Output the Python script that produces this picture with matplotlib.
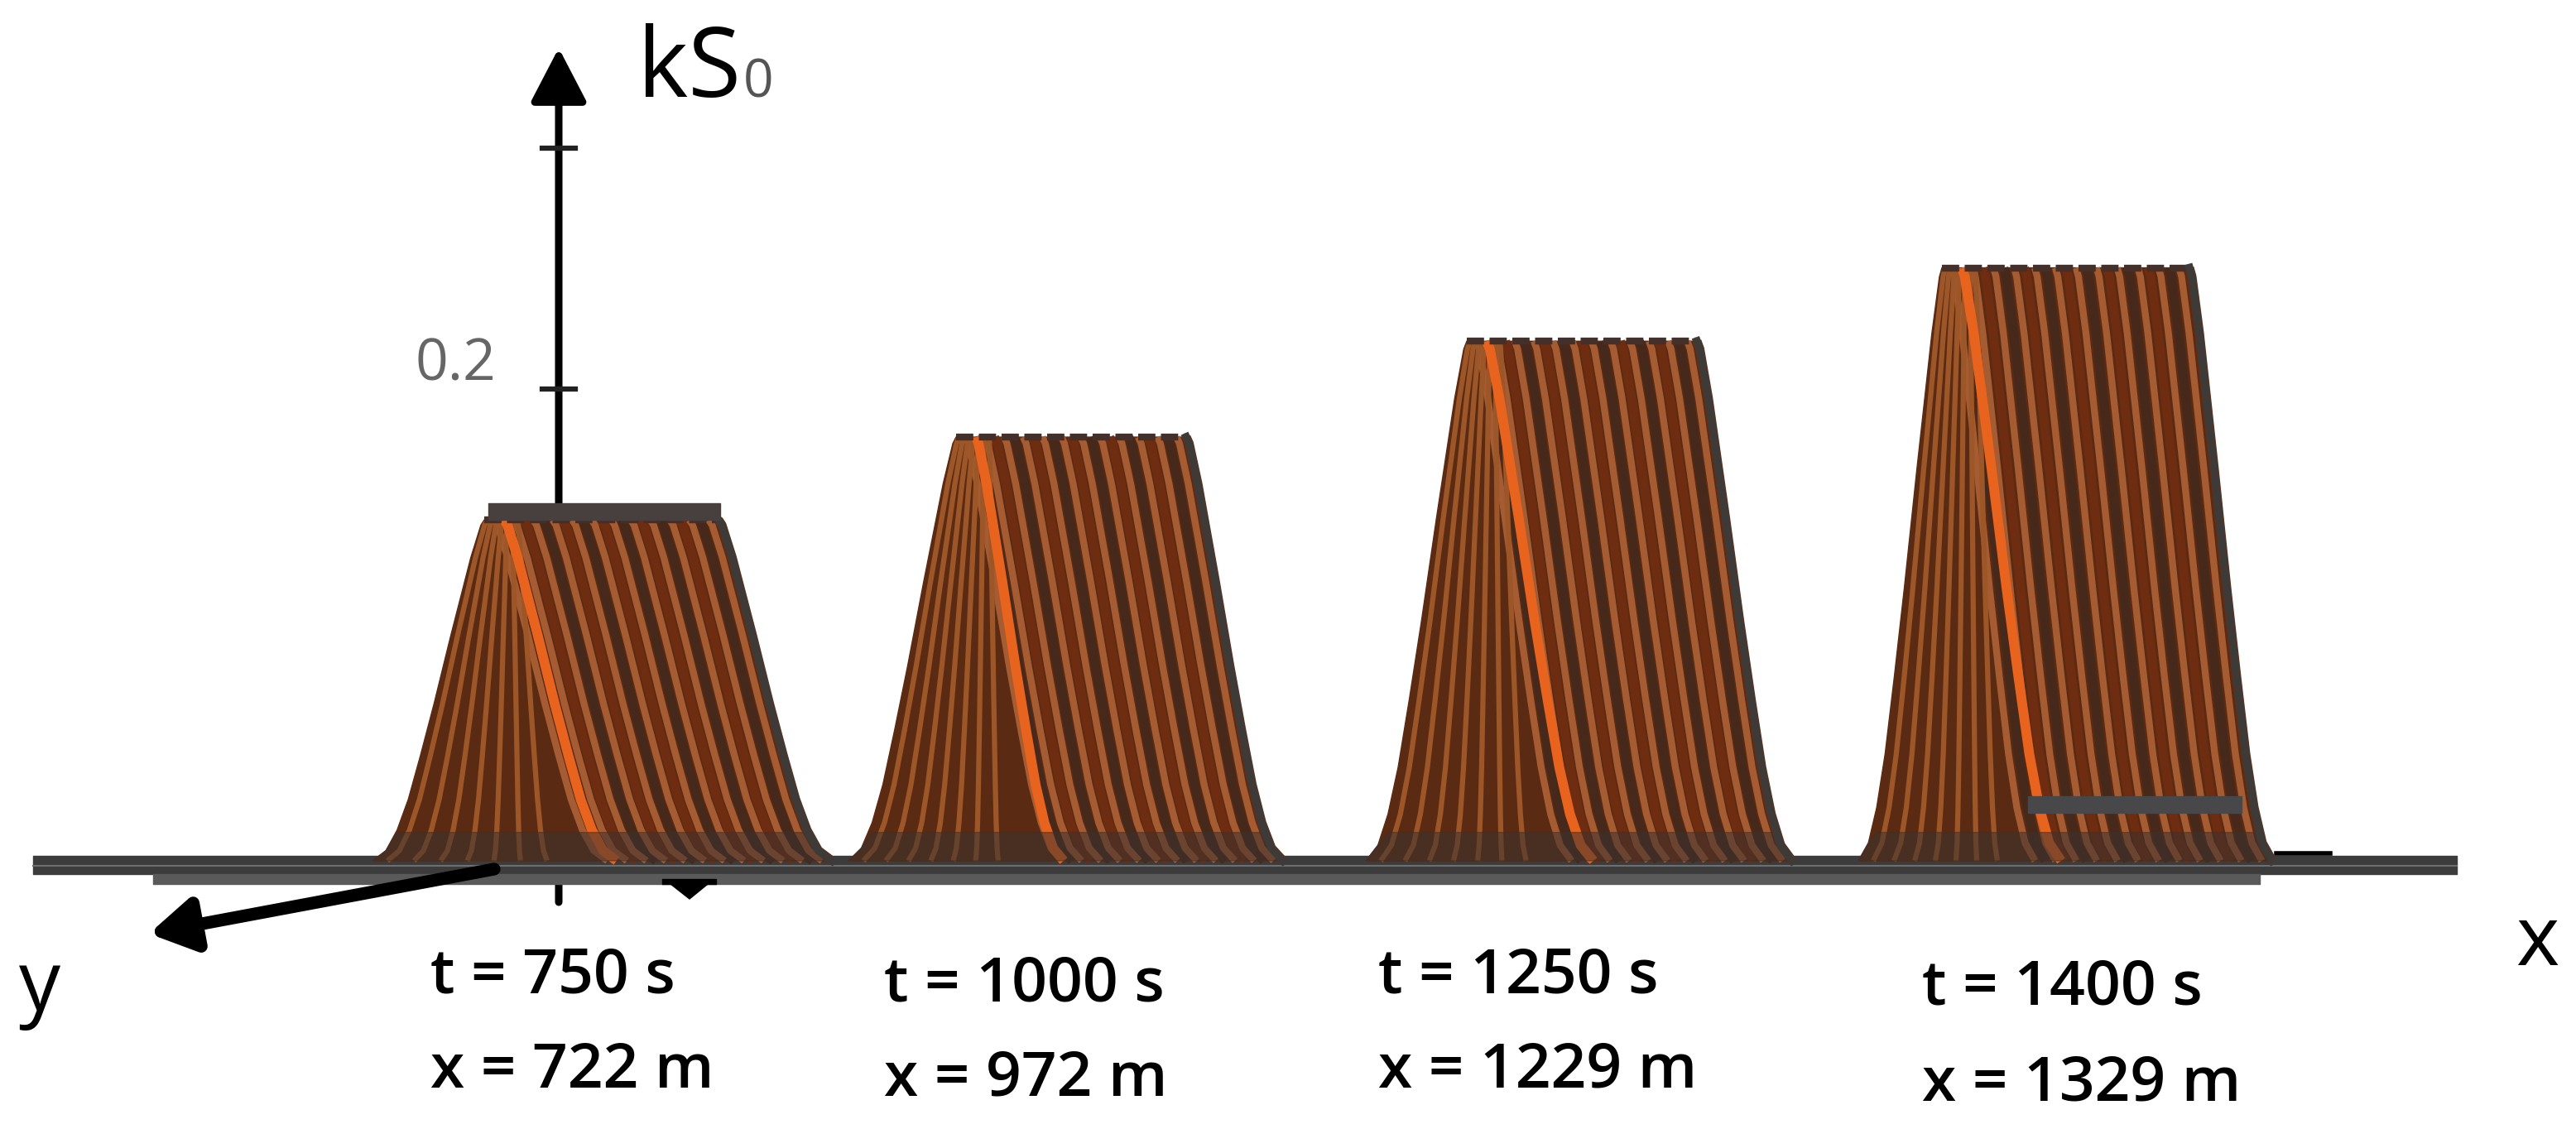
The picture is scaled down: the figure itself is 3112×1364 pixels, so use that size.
import numpy as np
import matplotlib.pyplot as plt
from matplotlib.transforms import Affine2D

# pulses, left to right (x is position on the picture, height is kS0)
times = [750, 1000, 1250, 1400]
dists = [722, 972, 1229, 1329]
peak_height = [0.144, 0.179, 0.2195, 0.2505]
top_left = [585, 1155, 1772, 2346]
top_right = [868, 1433, 2050, 2645]
foot_left = [450, 1025, 1650, 2245]
foot_right = [1005, 1550, 2165, 2745]
front_foot = [745, 1285, 1925, 2490]

# shape of one flank of the pulse
flank_run = [0, 0.03, 0.12, 0.30, 0.45, 0.57, 0.68, 0.78, 0.88, 1.0]
flank_rise = [1, 0.985, 0.89, 0.66, 0.46, 0.31, 0.18, 0.09, 0.03, 0]

run = np.array(flank_run)
rise = np.array(flank_rise)

fig = plt.figure(figsize=(31.12, 13.64), dpi=100)
ax = fig.add_axes([0, 0, 1, 1])
ax.set_xlim(0, 3112)
ax.set_ylim((1040 - 1364) / 2860, 1040 / 2860)
ax.axis('off')

# picture pixels, for everything that is not a pulse
px = Affine2D().scale(1, -1).translate(0, 1364)
plt.rcParams['font.family'] = ['Open Sans', 'DejaVu Sans']

# vertical axis sits behind the pulses
ax.annotate('', xy=(675, 58), xytext=(675, 1090), xycoords=px, textcoords=px,
            arrowprops=dict(arrowstyle='-|>,head_width=0.65,head_length=1.25', lw=6.5, color='black',
                            shrinkA=0, shrinkB=0, mutation_scale=32), zorder=1)
for tick_y in [179, 470]:
    ax.plot([655, 695], [tick_y, tick_y], color='#222222', lw=4.5, transform=px, zorder=1)
ax.text(550, 441, '0.2', color='#666666', fontsize=50, ha='center', va='center', transform=px)
ax.text(770, 86, 'kS', color='black', fontsize=84, ha='left', va='center', transform=px)
ax.text(898, 100, '0', color='#555555', fontsize=46, ha='left', va='center', transform=px)

# base plate
ax.fill_between([40, 2968], [1034, 1034], [1056, 1056], color='#3c3c3c', transform=px, zorder=2)
ax.fill_between([185, 2730], [1056, 1056], [1068, 1068], color='#5a5a5a', transform=px, zorder=2)
ax.plot([40, 2968], [1046, 1046], color='#6e6e6e', lw=1.5, transform=px, zorder=2)
ax.plot([2750, 2815], [1031, 1031], color='black', lw=4, transform=px, zorder=2)

for h, tl, tr, fl, fr, ff in zip(peak_height, top_left, top_right, foot_left, foot_right, front_foot):
    xs = np.concatenate([tl - run[::-1] * (tl - fl), tr + run * (fr - tr)])
    ys = np.concatenate([rise[::-1] * h, rise * h])
    ax.fill(xs, ys, color='#5a2a12', zorder=3)

    # ribs on the right of the front rib
    n = 12
    step = (tr - tl) / n
    for i in range(1, n + 1):
        x0 = tl + i * step
        dark = '#46291b' if i % 2 else '#6e2c10'
        ax.plot(x0 + run * (fr - tr), rise * h, color=dark, lw=8, zorder=4, solid_capstyle='butt')
        ax.plot(x0 - step / 2 + run * (fr - tr), rise * h, color='#a65c33', lw=6, zorder=4,
                solid_capstyle='butt')

    # ribs fanning out to the left of the front rib
    for k in range(7):
        x0 = tl + 4 + k * 6
        x1 = fl + 18 + k * (ff - fl - 70) / 7
        ax.plot(x0 + run * (x1 - x0), rise * h, color='#9c5628', lw=4.5, zorder=5,
                solid_capstyle='butt')

    # front rib
    ax.plot(tl + 24 + run * (ff - tl - 24), rise * h, color='#e8641e', lw=8.5, zorder=6,
            solid_capstyle='butt')
    # dark foot, top and right edge
    ax.fill(xs, np.minimum(ys, 0.012), color='#3c3230', alpha=0.55, zorder=6.5)
    ax.plot([tl, tr], [h, h], color='#43302a', lw=6, ls=(0, (2.5, 0.8)), zorder=7)
    ax.plot(tr + run * (fr - tr), rise * h, color='#3e3a38', lw=7, zorder=7)

# dark bars on the first and last pulse
ax.fill_between([590, 870], [608, 608], [628, 628], color='#48403e', transform=px, zorder=8)
ax.fill_between([2450, 2708], [962, 962], [982, 982], color='#48484a', transform=px, zorder=8)
ax.fill_between([800, 865], [1062, 1062], [1068, 1068], color='black', transform=px, zorder=8)
ax.fill([805, 860, 833], [1064, 1064, 1086], color='black', transform=px, zorder=8)

# y axis arrow
ax.annotate('', xy=(180, 1128), xytext=(597, 1050), xycoords=px, textcoords=px,
            arrowprops=dict(arrowstyle='-|>,head_width=0.6,head_length=1.0', lw=11, color='black',
                            shrinkA=0, shrinkB=0, mutation_scale=32), zorder=9)
ax.text(3065, 1140, 'x', color='black', fontsize=72, ha='center', va='center', transform=px)
ax.text(48, 1195, 'y', color='black', fontsize=72, ha='center', va='center', transform=px)

# labels under the pulses
label_x = [520, 1068, 1665, 2322]
label_y = [1180, 1190, 1180, 1195]
for lx, ly, t, d in zip(label_x, label_y, times, dists):
    ax.text(lx, ly, f't = {t} s', color='black', fontsize=54, fontweight='semibold', ha='left',
            va='center', transform=px)
    ax.text(lx, ly + 115, f'x = {d} m', color='black', fontsize=54, fontweight='semibold', ha='left',
            va='center', transform=px)

fig.savefig('out.png', dpi=100)
